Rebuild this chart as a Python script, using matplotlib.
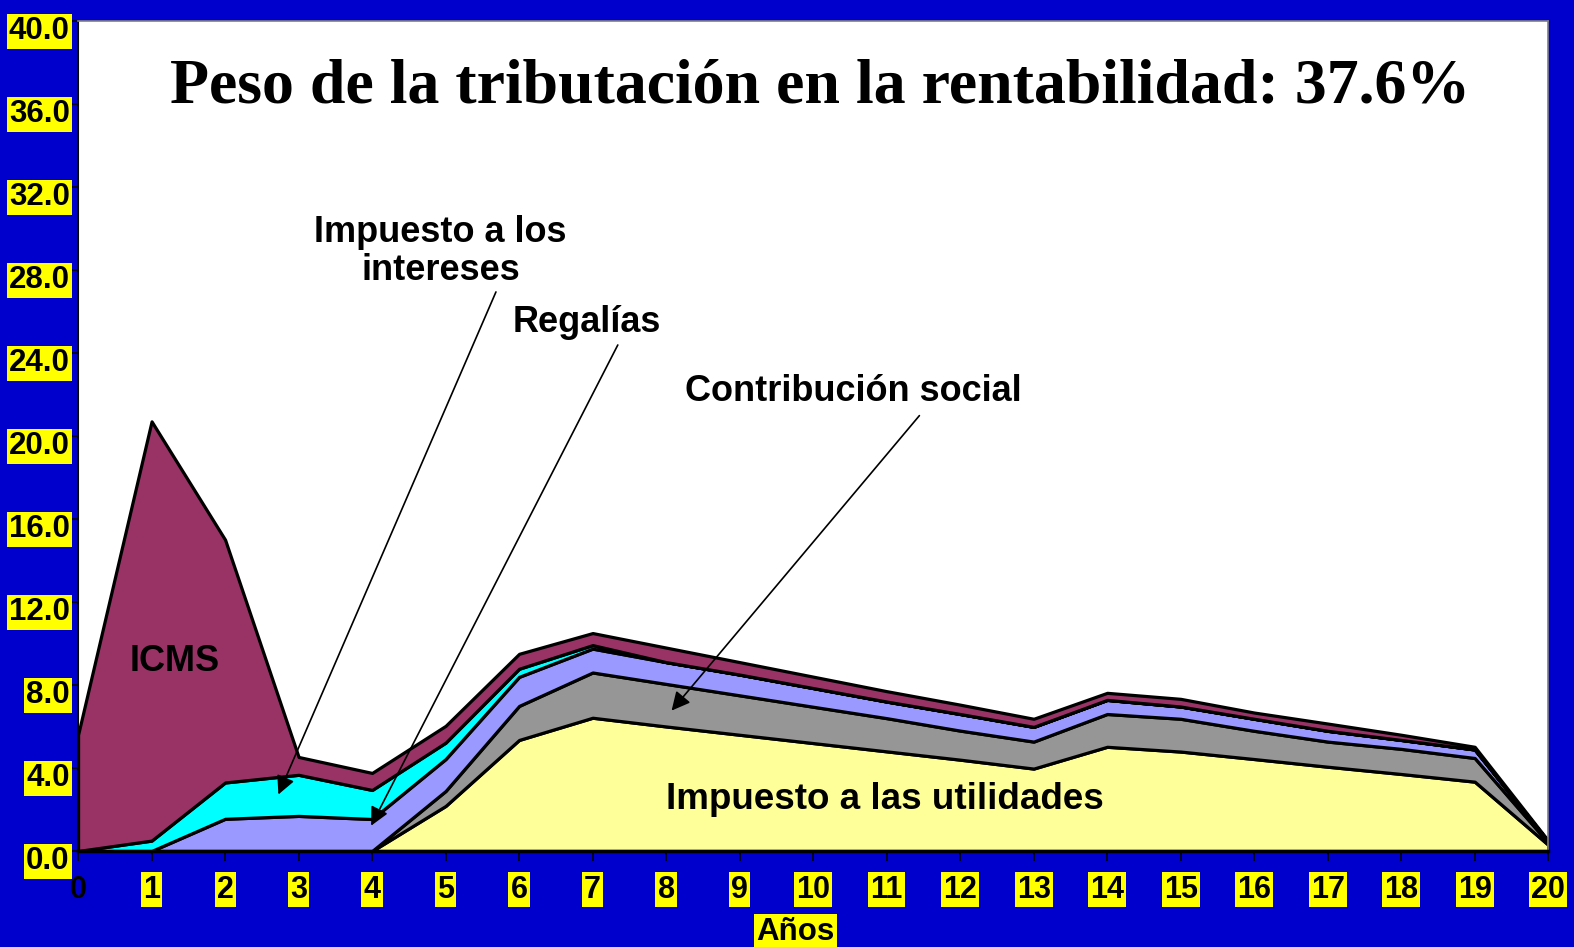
import matplotlib
matplotlib.use("Agg")
import matplotlib.pyplot as plt
import numpy as np
from matplotlib.transforms import ScaledTranslation

# años del proyecto
anos = list(range(0, 21))

# capas del area apilada (de abajo hacia arriba)
utilidades = [0, 0, 0, 0, 0, 2.17, 5.35, 6.42, 6.0, 5.6, 5.2, 4.8, 4.4, 3.97, 5.02, 4.79, 4.43, 4.06, 3.71, 3.34, 0.3]
contribucion = [0, 0, 0, 0, 0, 0.72, 1.64, 2.18, 2.05, 1.9, 1.75, 1.6, 1.4, 1.3, 1.58, 1.58, 1.36, 1.21, 1.21, 1.14, 0.1]
regalias = [0, 0, 1.55, 1.69, 1.54, 1.54, 1.4, 1.15, 1.05, 1.0, 0.9, 0.8, 0.8, 0.71, 0.68, 0.59, 0.58, 0.52, 0.43, 0.41, 0.05]
intereses = [0, 0.5, 1.75, 1.98, 1.4, 0.79, 0.39, 0.17, 0, 0, 0, 0, 0, 0, 0, 0, 0, 0, 0, 0, 0]
icms = [5.6, 20.2, 11.7, 0.86, 0.82, 0.81, 0.72, 0.58, 0.7, 0.6, 0.55, 0.5, 0.45, 0.39, 0.34, 0.37, 0.3, 0.35, 0.25, 0.13, 0.05]

yticks = np.arange(0, 41, 4)
ytick_labels = ["%.1f" % v for v in yticks]

colores = ["#FFFF99", "#969696", "#9999FF", "#00FFFF", "#993366"]

sans = "Liberation Sans"
fig = plt.figure(figsize=(15.74, 9.47), dpi=100, facecolor="#0000CC")
ax = fig.add_axes([0.0496, 0.1014, 0.934, 0.8766])
ax.set_facecolor("white")

ax.stackplot(anos, utilidades, contribucion, regalias, intereses, icms,
             colors=colores, edgecolor="black", linewidth=2.3)

ax.set_xlim(0, 20)
ax.set_ylim(0, 40)

for s in ["top", "right"]:
    ax.spines[s].set_color("#808080")
    ax.spines[s].set_linewidth(1.2)
ax.spines["left"].set_color("black")
ax.spines["left"].set_linewidth(1.5)
ax.spines["bottom"].set_color("black")
ax.spines["bottom"].set_linewidth(2.5)

ax.set_yticks(yticks)
ax.set_yticklabels(ytick_labels, fontfamily=sans, fontweight="bold", fontsize=22.5)
ax.set_xticks(anos)
ax.set_xticklabels([str(a) for a in anos], fontfamily=sans, fontweight="bold", fontsize=22)
ax.tick_params(axis="y", length=4, width=1.2, pad=2, colors="black")
ax.tick_params(axis="x", length=7, width=1.2, pad=10, colors="black")

for lab in ax.get_yticklabels():
    lab.set_bbox(dict(facecolor="yellow", edgecolor="none", pad=1.5))
    lab.set_transform(lab.get_transform() + ScaledTranslation(0, -0.07, fig.dpi_scale_trans))
for i, lab in enumerate(ax.get_xticklabels()):
    if i > 0:
        lab.set_bbox(dict(facecolor="yellow", edgecolor="none", pad=1.5))

ax.set_xlabel("Años", fontfamily=sans, fontweight="bold", fontsize=22.5, labelpad=9,
              bbox=dict(facecolor="yellow", edgecolor="none", pad=2))
ax.xaxis.label.set_x(0.488)

ax.text(0.505, 0.92, "Peso de la tributación en la rentabilidad: 37.6%", transform=ax.transAxes,
        ha="center", va="center", fontfamily="Liberation Serif", fontweight="bold", fontsize=46)

ax.text(1.31, 9.15, "ICMS", ha="center", va="center", fontfamily=sans, fontweight="bold", fontsize=26)
ax.text(10.97, 2.5, "Impuesto a las utilidades", ha="center", va="center", fontfamily=sans,
        fontweight="bold", fontsize=26.5)

flecha = dict(arrowstyle="-|>", color="black", lw=1.2, mutation_scale=28)
ax.text(4.93, 28.9, "Impuesto a los\nintereses", ha="center", va="center",
        fontfamily=sans, fontweight="bold", fontsize=26, linespacing=1.12)
ax.annotate("", xy=(2.71, 2.6), xytext=(5.70, 27.06), arrowprops=flecha)
ax.text(6.92, 25.45, "Regalías", ha="center", va="center", fontfamily=sans, fontweight="bold", fontsize=26)
ax.annotate("", xy=(3.97, 1.1), xytext=(7.36, 24.5), arrowprops=flecha)
ax.text(10.55, 22.15, "Contribución social", ha="center", va="center", fontfamily=sans,
        fontweight="bold", fontsize=26)
ax.annotate("", xy=(8.05, 6.66), xytext=(11.47, 21.08), arrowprops=flecha)

fig.savefig("out.png", dpi=100, facecolor=fig.get_facecolor())
